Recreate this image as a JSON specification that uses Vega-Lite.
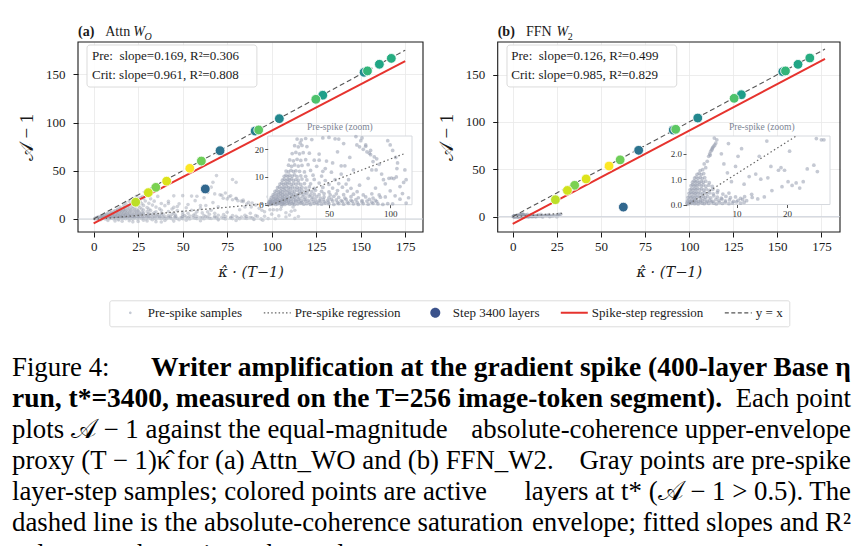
{
  "$schema": "https://vega.github.io/schema/vega-lite/v6.json",
  "width": 863,
  "height": 546,
  "autosize": {"type": "none"},
  "padding": 0,
  "background": "white",
  "config": {
    "view": {"stroke": null},
    "font": "Liberation Serif",
    "axis": {
      "labelFont": "Liberation Serif",
      "titleFont": "Liberation Serif",
      "labelColor": "#1a1a1a",
      "titleColor": "#1a1a1a",
      "tickColor": "#1a1a1a",
      "domain": false,
      "labelFlush": false,
      "labelOverlap": false,
      "titleFontWeight": "normal",
      "gridColor": "#e8e8e8",
      "gridWidth": 0.8
    },
    "text": {"font": "Liberation Serif", "color": "#1a1a1a"}
  },
  "datasets": {
    "preA": [
      {"x":0.5,"y":0.3},{"x":1.5,"y":0.1},{"x":2.5,"y":0.4},{"x":3.5,"y":0.2},{"x":5,"y":0.5},{"x":6.5,"y":0.1},{"x":8,"y":0.3},{"x":9.5,"y":0.6},{"x":11,"y":0.2},{"x":12.5,"y":0.4},{"x":14,"y":0.1},{"x":16,"y":0.5},{"x":18,"y":0.2},{"x":20,"y":0.4},{"x":22,"y":0.1},{"x":24.5,"y":0.3},{"x":27,"y":0.6},{"x":29.5,"y":0.2},{"x":32,"y":0.4},{"x":35,"y":0.1},{"x":38,"y":0.5},{"x":41,"y":0.3},{"x":44,"y":0.2},{"x":47,"y":0.6},{"x":50,"y":0.3},{"x":54,"y":0.1},{"x":58,"y":0.4},{"x":62,"y":0.2},{"x":66,"y":0.5},{"x":70,"y":0.3},{"x":74,"y":0.1},{"x":78,"y":0.4},{"x":82,"y":0.2},{"x":86,"y":0.5},{"x":90,"y":0.3},{"x":94,"y":0.1},{"x":98,"y":0.4},{"x":102,"y":0.3},
      {"x":1,"y":0.9},{"x":2,"y":1.2},{"x":3,"y":0.8},{"x":4.5,"y":1.1},{"x":6,"y":0.9},{"x":7.5,"y":1.3},{"x":9,"y":0.8},{"x":10.5,"y":1.2},{"x":12,"y":1.0},{"x":13.5,"y":0.8},{"x":15,"y":1.3},{"x":17,"y":0.9},{"x":19,"y":1.1},{"x":21,"y":0.8},{"x":23,"y":1.2},{"x":25.5,"y":1.0},{"x":28,"y":0.8},{"x":31,"y":1.3},{"x":34,"y":0.9},{"x":37,"y":1.1},{"x":40,"y":0.8},{"x":43,"y":1.2},{"x":46,"y":1.0},{"x":49.5,"y":0.9},{"x":53,"y":1.3},{"x":57,"y":0.8},{"x":61,"y":1.1},{"x":65,"y":0.9},{"x":69,"y":1.2},{"x":73,"y":0.8},{"x":77,"y":1.0},{"x":81,"y":1.3},{"x":85,"y":0.9},{"x":89,"y":1.1},
      {"x":2,"y":1.7},{"x":3.5,"y":1.5},{"x":5,"y":2.0},{"x":6.5,"y":1.6},{"x":8,"y":1.9},{"x":9.5,"y":1.5},{"x":11,"y":1.8},{"x":12.5,"y":2.0},{"x":14,"y":1.6},{"x":15.5,"y":1.9},{"x":17,"y":1.5},{"x":19,"y":1.8},{"x":21,"y":2.0},{"x":23,"y":1.6},{"x":25,"y":1.9},{"x":27.5,"y":1.5},{"x":30,"y":1.8},{"x":33,"y":1.6},{"x":36,"y":2.0},{"x":39,"y":1.7},{"x":42,"y":1.5},{"x":45.5,"y":1.9},{"x":49,"y":1.6},{"x":52,"y":2.0},{"x":56,"y":1.7},{"x":60,"y":1.5},{"x":64,"y":1.9},{"x":68,"y":1.6},{"x":72,"y":1.8},{"x":77,"y":1.5},{"x":83,"y":1.9},{"x":88,"y":1.6},
      {"x":3,"y":2.6},{"x":4.5,"y":2.9},{"x":6,"y":2.4},{"x":7.5,"y":2.8},{"x":9,"y":2.5},{"x":10.5,"y":3.0},{"x":12,"y":2.6},{"x":13.5,"y":2.9},{"x":15,"y":2.4},{"x":16.5,"y":2.8},{"x":18,"y":2.5},{"x":20,"y":3.0},{"x":22,"y":2.6},{"x":24,"y":2.9},{"x":26,"y":2.4},{"x":28.5,"y":2.8},{"x":31,"y":2.5},{"x":34,"y":3.0},{"x":37,"y":2.6},{"x":40,"y":2.9},{"x":43,"y":2.4},{"x":46,"y":2.8},{"x":50,"y":2.5},{"x":54,"y":3.0},{"x":58,"y":2.6},{"x":63,"y":2.4},{"x":68,"y":2.9},{"x":74,"y":2.5},{"x":80,"y":2.8},{"x":86,"y":2.4},{"x":92,"y":2.7},
      {"x":4.5,"y":3.6},{"x":6,"y":3.9},{"x":7.5,"y":3.5},{"x":9,"y":3.8},{"x":10.5,"y":4.0},{"x":12,"y":3.6},{"x":13.5,"y":3.9},{"x":15,"y":3.5},{"x":16.5,"y":3.8},{"x":18,"y":4.0},{"x":19.5,"y":3.6},{"x":21,"y":3.9},{"x":23,"y":3.5},{"x":25,"y":3.8},{"x":27,"y":4.0},{"x":29.5,"y":3.6},{"x":32,"y":3.9},{"x":35,"y":3.5},{"x":38,"y":3.8},{"x":42,"y":3.6},{"x":46,"y":4.0},{"x":51,"y":3.5},{"x":56,"y":3.9},{"x":62,"y":3.6},{"x":70,"y":3.8},{"x":78,"y":3.5},{"x":85,"y":3.9},
      {"x":6,"y":4.8},{"x":7.5,"y":5.1},{"x":9,"y":4.6},{"x":10.5,"y":5.0},{"x":12,"y":4.7},{"x":13.5,"y":5.2},{"x":15,"y":4.8},{"x":16.5,"y":5.1},{"x":18,"y":4.6},{"x":20,"y":5.0},{"x":22,"y":4.7},{"x":24,"y":5.2},{"x":26,"y":4.8},{"x":28,"y":5.1},{"x":30.5,"y":4.6},{"x":33,"y":5.0},{"x":36,"y":4.7},{"x":39,"y":5.2},{"x":44,"y":4.8},{"x":50,"y":4.6},{"x":57,"y":5.1},{"x":65,"y":4.9},{"x":73,"y":4.7},
      {"x":8,"y":6.1},{"x":9.5,"y":6.4},{"x":11,"y":5.9},{"x":12.5,"y":6.3},{"x":14,"y":6.0},{"x":15.5,"y":6.5},{"x":17,"y":6.1},{"x":18.5,"y":5.9},{"x":20,"y":6.4},{"x":22,"y":6.0},{"x":24,"y":6.3},{"x":26,"y":5.9},{"x":28,"y":6.2},{"x":31,"y":6.0},{"x":34,"y":6.4},{"x":38,"y":5.9},{"x":45,"y":6.2},{"x":53,"y":6.0},{"x":61,"y":6.3},{"x":68,"y":5.9},
      {"x":10,"y":7.4},{"x":11.5,"y":7.8},{"x":13,"y":7.3},{"x":14.5,"y":7.7},{"x":16,"y":7.5},{"x":17.5,"y":7.9},{"x":19,"y":7.3},{"x":21,"y":7.6},{"x":23,"y":7.4},{"x":25,"y":7.8},{"x":27,"y":7.3},{"x":30,"y":7.6},{"x":35,"y":7.5},{"x":42,"y":7.8},{"x":50,"y":7.3},{"x":58,"y":7.6},{"x":64,"y":7.4},
      {"x":12,"y":8.8},{"x":13.5,"y":9.2},{"x":15,"y":8.7},{"x":16.5,"y":9.1},{"x":18,"y":8.9},{"x":19.5,"y":9.3},{"x":21,"y":8.7},{"x":23,"y":9.0},{"x":25,"y":8.8},{"x":28,"y":9.2},{"x":32,"y":8.9},{"x":38,"y":9.1},{"x":47,"y":8.7},{"x":55,"y":9.0},
      {"x":13.5,"y":10.2},{"x":15,"y":10.6},{"x":16.5,"y":10.1},{"x":18,"y":10.5},{"x":20,"y":10.3},{"x":22,"y":10.7},{"x":24,"y":10.1},{"x":27,"y":10.4},{"x":31,"y":10.2},{"x":37,"y":10.6},{"x":44,"y":10.3},
      {"x":15,"y":12.1},{"x":17,"y":11.8},{"x":19,"y":12.3},{"x":21,"y":11.9},{"x":23,"y":12.2},{"x":26,"y":12.0},{"x":30,"y":11.8},{"x":35,"y":12.3},{"x":45,"y":12.0},{"x":52,"y":11.7},
      {"x":17,"y":14.2},{"x":19.5,"y":13.8},{"x":22,"y":14.3},{"x":25,"y":13.9},{"x":28,"y":14.1},{"x":33,"y":14.4},{"x":40,"y":13.8},{"x":60,"y":14.0},
      {"x":18,"y":16.1},{"x":21,"y":15.8},{"x":24,"y":16.3},{"x":27,"y":15.9},{"x":31,"y":16.2},{"x":38,"y":16.0},{"x":48,"y":15.7},
      {"x":20,"y":18.4},{"x":23,"y":18.8},{"x":26,"y":18.3},{"x":29,"y":18.7},{"x":34,"y":18.5},{"x":42,"y":18.2},
      {"x":22,"y":21.2},{"x":25,"y":20.8},{"x":28,"y":21.3},{"x":32,"y":20.9},{"x":26.5,"y":22.2},
      {"x":24,"y":23.6},{"x":27.5,"y":23.3},{"x":31,"y":23.8},{"x":36,"y":23.4},{"x":45,"y":24.0},{"x":55,"y":23.7},
      {"x":50,"y":24.2},{"x":58,"y":23.6},{"x":72.8,"y":21.5},{"x":75,"y":20.8},{"x":78,"y":19.9},{"x":81,"y":19},{"x":84,"y":18},{"x":87,"y":17.2},{"x":89,"y":16.5},{"x":91,"y":14.5},{"x":93,"y":11},{"x":94.5,"y":9},{"x":96,"y":7.5},{"x":99,"y":9.5},{"x":101,"y":9.6},{"x":103,"y":9.4},{"x":105,"y":10},{"x":105.5,"y":13},{"x":106,"y":15},{"x":104.5,"y":17},{"x":102,"y":19.5},{"x":100,"y":21.5},{"x":98,"y":23},{"x":112,"y":12.5},{"x":113,"y":9},{"x":110,"y":4},{"x":108,"y":2},{"x":115,"y":2.5},{"x":113,"y":0.6},{"x":60,"y":11},{"x":66,"y":9},{"x":70,"y":12.5},{"x":75,"y":7},{"x":82,"y":9.5},{"x":88,"y":6},{"x":63,"y":14},{"x":67,"y":17},{"x":71,"y":25},{"x":64,"y":28},{"x":66,"y":33},{"x":67,"y":38},{"x":69,"y":45},{"x":78,"y":41},{"x":80,"y":38},{"x":62,"y":22},{"x":57,"y":19},{"x":53,"y":15},{"x":47,"y":13},{"x":42,"y":16},{"x":85,"y":12.5},{"x":91,"y":3.5},{"x":96,"y":2.8},{"x":100,"y":5},{"x":104,"y":3.2},{"x":108,"y":6.5},{"x":111,"y":8},
      {"x":74,"y":27},{"x":77,"y":24},{"x":80,"y":21.5},{"x":83,"y":18.5},{"x":86,"y":15.5},{"x":88.5,"y":12.5},{"x":64,"y":27.5},{"x":68,"y":26},{"x":72,"y":24.5},{"x":76,"y":23},{"x":80,"y":21},{"x":84,"y":19.5},
      {"x":4,"y":-0.8},{"x":8,"y":-1.5},{"x":12,"y":-2},{"x":16,"y":-2.4},{"x":20,"y":-1.8},{"x":25,"y":-2.5},{"x":30,"y":-2},{"x":35,"y":-2.8},{"x":40,"y":-1.5},{"x":45,"y":-2.2},{"x":52,"y":-1.2},{"x":60,"y":-1.8},{"x":70,"y":-0.9},{"x":80,"y":-1.5},{"x":90,"y":-0.6},{"x":95,"y":-1.2},{"x":14,"y":-1},{"x":22,"y":-3},{"x":28,"y":-1.2},{"x":33,"y":-0.7},{"x":38,"y":-3.2},{"x":48,"y":-0.8}
    ],
    "preB": [
      {"x":0.2,"y":0.05},{"x":0.5,"y":0.02},{"x":0.8,"y":0.08},{"x":1.1,"y":0.04},{"x":1.4,"y":0.1},{"x":1.7,"y":0.03},{"x":2.0,"y":0.07},{"x":2.4,"y":0.02},{"x":2.8,"y":0.09},{"x":3.2,"y":0.05},{"x":3.6,"y":0.03},{"x":4.0,"y":0.08},{"x":4.5,"y":0.04},{"x":5.0,"y":0.1},{"x":5.5,"y":0.05},{"x":6.0,"y":0.02},{"x":6.6,"y":0.08},{"x":7.2,"y":0.04},{"x":7.8,"y":0.09},{"x":8.5,"y":0.03},{"x":9.2,"y":0.06},{"x":10.0,"y":0.1},{"x":10.8,"y":0.05},{"x":11.5,"y":0.08},
      {"x":0.3,"y":0.14},{"x":0.6,"y":0.18},{"x":0.9,"y":0.12},{"x":1.2,"y":0.17},{"x":1.5,"y":0.13},{"x":1.8,"y":0.19},{"x":2.1,"y":0.15},{"x":2.5,"y":0.12},{"x":2.9,"y":0.18},{"x":3.3,"y":0.14},{"x":3.7,"y":0.2},{"x":4.2,"y":0.13},{"x":4.7,"y":0.17},{"x":5.3,"y":0.12},{"x":5.9,"y":0.19},{"x":6.5,"y":0.15},{"x":7.1,"y":0.21},{"x":7.8,"y":0.14},{"x":8.6,"y":0.18},{"x":9.4,"y":0.12},{"x":10.3,"y":0.16},{"x":11.2,"y":0.2},
      {"x":0.4,"y":0.28},{"x":0.7,"y":0.33},{"x":1.0,"y":0.27},{"x":1.3,"y":0.31},{"x":1.6,"y":0.26},{"x":1.9,"y":0.34},{"x":2.2,"y":0.29},{"x":2.6,"y":0.32},{"x":3.0,"y":0.27},{"x":3.4,"y":0.33},{"x":3.8,"y":0.28},{"x":4.3,"y":0.31},{"x":4.9,"y":0.26},{"x":5.5,"y":0.34},{"x":6.2,"y":0.29},{"x":7.0,"y":0.25},{"x":7.9,"y":0.32},{"x":8.8,"y":0.27},{"x":9.8,"y":0.3},{"x":10.8,"y":0.24},{"x":11.6,"y":0.31},{"x":13.1,"y":0.28},{"x":14.2,"y":0.22},
      {"x":0.6,"y":0.44},{"x":0.9,"y":0.48},{"x":1.2,"y":0.42},{"x":1.5,"y":0.47},{"x":1.8,"y":0.43},{"x":2.1,"y":0.49},{"x":2.4,"y":0.44},{"x":2.8,"y":0.46},{"x":3.2,"y":0.41},{"x":3.6,"y":0.48},{"x":4.1,"y":0.43},{"x":4.7,"y":0.46},{"x":5.4,"y":0.42},{"x":6.2,"y":0.47},{"x":7.3,"y":0.41},{"x":8.5,"y":0.45},
      {"x":0.8,"y":0.58},{"x":1.1,"y":0.62},{"x":1.4,"y":0.57},{"x":1.7,"y":0.63},{"x":2.0,"y":0.59},{"x":2.3,"y":0.64},{"x":2.7,"y":0.58},{"x":3.1,"y":0.62},{"x":3.5,"y":0.57},{"x":4.0,"y":0.61},{"x":4.6,"y":0.56},{"x":5.3,"y":0.6},{"x":6.3,"y":0.55},
      {"x":1.0,"y":0.74},{"x":1.3,"y":0.78},{"x":1.6,"y":0.73},{"x":1.9,"y":0.77},{"x":2.2,"y":0.75},{"x":2.6,"y":0.79},{"x":3.0,"y":0.73},{"x":3.4,"y":0.77},{"x":3.9,"y":0.72},{"x":4.5,"y":0.76},{"x":5.2,"y":0.71},
      {"x":1.3,"y":0.88},{"x":1.6,"y":0.93},{"x":1.9,"y":0.89},{"x":2.2,"y":0.92},{"x":2.6,"y":0.87},{"x":3.0,"y":0.91},{"x":3.4,"y":0.88},{"x":3.9,"y":0.92},{"x":4.6,"y":0.86},
      {"x":1.7,"y":1.04},{"x":2.0,"y":1.08},{"x":2.4,"y":1.03},{"x":2.8,"y":1.07},{"x":3.2,"y":1.02},{"x":3.7,"y":1.06},
      {"x":2.2,"y":1.19},{"x":2.6,"y":1.23},{"x":3.0,"y":1.18},{"x":3.5,"y":1.22},{"x":2.8,"y":1.34},{"x":3.3,"y":1.37},
      {"x":4.5,"y":1.9},{"x":4.7,"y":2.0},{"x":4.9,"y":2.1},{"x":5.1,"y":2.15},{"x":5.3,"y":2.25},{"x":5.5,"y":2.3},{"x":5.7,"y":2.35},{"x":5.9,"y":2.42},{"x":4.8,"y":1.95},{"x":5.2,"y":2.2},{"x":5.6,"y":2.62},{"x":6.1,"y":2.55},{"x":7.0,"y":2.0},{"x":7.5,"y":1.6},{"x":3.6,"y":1.6},{"x":3.9,"y":1.45},{"x":4.2,"y":1.7},{"x":9.8,"y":1.5},{"x":10.3,"y":1.9},{"x":8.2,"y":1.25},{"x":9,"y":0.9},{"x":11.5,"y":0.8},{"x":12.5,"y":1.1},{"x":13.8,"y":1.2},{"x":14.8,"y":1.0},{"x":16.2,"y":1.05},{"x":16.8,"y":1.5},{"x":18.3,"y":1.35},{"x":18.8,"y":1.45},{"x":19.5,"y":1.35},{"x":20.2,"y":0.9},{"x":21,"y":0.75},{"x":21.8,"y":0.85},{"x":22.5,"y":0.65},{"x":23.2,"y":0.9},{"x":24,"y":1.4},{"x":25.3,"y":1.55},{"x":26,"y":1.3},{"x":26.8,"y":2.55},{"x":27.3,"y":2.55},{"x":25.8,"y":2.6},{"x":20.5,"y":2.1},{"x":13,"y":0.4},{"x":15.5,"y":0.3},{"x":17,"y":0.55},{"x":12,"y":0.15},{"x":19,"y":0.7},{"x":8.4,"y":2.4},{"x":11,"y":2.2},{"x":16,"y":2.5},{"x":14.5,"y":1.9},
      {"x":1,"y":-0.3},{"x":3,"y":-0.5},{"x":6,"y":-0.2},{"x":9,"y":-0.4},{"x":13,"y":-0.3},{"x":17,"y":-0.6},{"x":21,"y":-0.2},{"x":25,"y":-0.4}
    ],
    "active": [
      {"panel":"a","x":62.7,"y":31.1,"layer":132},{"panel":"a","x":71.0,"y":70.8,"layer":152},{"panel":"a","x":90.7,"y":91.2,"layer":168},{"panel":"a","x":104.3,"y":104.0,"layer":186},{"panel":"a","x":151.9,"y":152.1,"layer":192},{"panel":"a","x":128.7,"y":128.3,"layer":223},{"panel":"a","x":160.5,"y":160.4,"layer":235},{"panel":"a","x":167.2,"y":166.5,"layer":247},{"panel":"a","x":153.8,"y":153.5,"layer":263},{"panel":"a","x":124.8,"y":124.1,"layer":287},{"panel":"a","x":92.7,"y":92.3,"layer":299},{"panel":"a","x":60.5,"y":60.1,"layer":311},{"panel":"a","x":34.9,"y":32.8,"layer":319},{"panel":"a","x":23.6,"y":17.4,"layer":359},{"panel":"a","x":30.7,"y":27.3,"layer":371},{"panel":"a","x":41.0,"y":39.2,"layer":379},{"panel":"a","x":54.0,"y":52.5,"layer":399},
      {"panel":"b","x":62.7,"y":10.1,"layer":132},{"panel":"b","x":71.4,"y":70.1,"layer":152},{"panel":"b","x":91.0,"y":91.5,"layer":168},{"panel":"b","x":104.9,"y":104.2,"layer":186},{"panel":"b","x":153.1,"y":153.1,"layer":192},{"panel":"b","x":129.6,"y":128.8,"layer":223},{"panel":"b","x":161.7,"y":160.9,"layer":235},{"panel":"b","x":168.4,"y":167.6,"layer":247},{"panel":"b","x":154.6,"y":153.9,"layer":263},{"panel":"b","x":125.5,"y":125.0,"layer":287},{"panel":"b","x":92.4,"y":92.3,"layer":299},{"panel":"b","x":60.9,"y":60.0,"layer":311},{"panel":"b","x":35.1,"y":33.1,"layer":319},{"panel":"b","x":24.2,"y":17.9,"layer":359},{"panel":"b","x":31.0,"y":27.7,"layer":371},{"panel":"b","x":41.6,"y":39.8,"layer":379},{"panel":"b","x":54.6,"y":53.5,"layer":399}
    ],
    "fits": [
      {"panel":"a","kind":"pre","x":0,"y":-0.5},{"panel":"a","kind":"pre","x":112,"y":18.428},
      {"panel":"a","kind":"spike","x":0,"y":-4.5},{"panel":"a","kind":"spike","x":175,"y":163.675},
      {"panel":"a","kind":"identity","x":0,"y":0},{"panel":"a","kind":"identity","x":175,"y":175},
      {"panel":"b","kind":"pre","x":0,"y":-0.05},{"panel":"b","kind":"pre","x":28,"y":3.478},
      {"panel":"b","kind":"pre-zoom","x":0,"y":-0.05},{"panel":"b","kind":"pre-zoom","x":21.8,"y":2.697},
      {"panel":"b","kind":"spike","x":0,"y":-7.7},{"panel":"b","kind":"spike","x":177,"y":166.645},
      {"panel":"b","kind":"identity","x":0,"y":0},{"panel":"b","kind":"identity","x":177,"y":177}
    ],
    "caption": [
      {"line":1,"segment":"first","role":"body","text":"Figure 4:"},
      {"line":1,"segment":"last","role":"heading","text":"Writer amplification at the gradient spike (400-layer Base η"},
      {"line":2,"segment":"first","role":"heading","text":"run, t*=3400, measured on the T=256 image-token segment)."},
      {"line":2,"segment":"last","role":"body","text":"Each point"},
      {"line":3,"segment":"first","role":"body","text":"plots 𝒜 − 1 against the equal-magnitude"},
      {"line":3,"segment":"last","role":"body","text":"absolute-coherence upper-envelope"},
      {"line":4,"segment":"first","role":"body","text":"proxy (T − 1)κ̂ for (a) Attn_WO and (b) FFN_W2."},
      {"line":4,"segment":"last","role":"body","text":"Gray points are pre-spike"},
      {"line":5,"segment":"first","role":"body","text":"layer-step samples; colored points are active"},
      {"line":5,"segment":"last","role":"body","text":"layers at t* (𝒜 − 1 > 0.5). The"},
      {"line":6,"segment":"first","role":"body","text":"dashed line is the absolute-coherence saturation"},
      {"line":6,"segment":"last","role":"body","text":"envelope; fitted slopes and R²"},
      {"line":7,"segment":"first","role":"body","text":"values are shown in each panel."}
    ]
  },
  "resolve": {
    "scale": {"x": "independent", "y": "independent", "fill": "independent", "stroke": "independent", "color": "independent", "shape": "independent", "strokeDash": "independent"},
    "axis": {"x": "independent", "y": "independent"}
  },
  "layer": [
    {
      "data": {"values": [{"panel": "a"}]},
      "mark": {"type": "rect", "fill": "white", "fillOpacity": 0, "stroke": "#1a1a1a", "strokeWidth": 1.1},
      "encoding": {
        "x": {"datum": -8.8, "type": "quantitative", "scale": {"domain": [-8.8, 185], "range": [78, 423], "nice": false, "zero": false},
              "axis": {"orient": "top", "values": [0, 25, 50, 75, 100, 125, 150, 175], "grid": true, "labels": false, "ticks": false, "title": null}},
        "x2": {"datum": 185},
        "y": {"datum": -13.5, "type": "quantitative", "scale": {"domain": [-13.5, 183.5], "range": [232, 42], "nice": false, "zero": false}, "axis": null},
        "y2": {"datum": 183.5}
      }
    },
    {
      "layer": [
        {
          "data": {"name": "preA"},
          "mark": {"type": "point", "filled": true, "size": 13, "color": "#969dae", "opacity": 0.45, "strokeWidth": 0},
          "encoding": {
            "x": {"field": "x", "type": "quantitative", "scale": {"domain": [-8.8, 185], "range": [78, 423], "nice": false, "zero": false},
                  "axis": {"orient": "bottom", "offset": -314, "values": [0, 25, 50, 75, 100, 125, 150, 175], "grid": false, "title": "κ̂ · (T−1)", "titleFont": "DejaVu Serif", "titleFontStyle": "italic", "titleFontSize": 14.5, "titlePadding": 12, "labelFont": "Liberation Serif", "labelFontSize": 13, "tickSize": 5, "labelPadding": 3}},
            "y": {"field": "y", "type": "quantitative", "scale": {"domain": [-13.5, 183.5], "range": [232, 42], "nice": false, "zero": false},
                  "axis": {"orient": "left", "offset": -78, "values": [0, 50, 100, 150], "grid": true, "title": "𝒜 − 1", "titleFont": "Liberation Serif", "titleFontSize": 19, "titlePadding": 9, "labelFont": "Liberation Serif", "labelFontSize": 13, "tickSize": 5, "labelPadding": 8}}
          }
        },
        {
          "data": {"values": [{"level": 0}]},
          "mark": {"type": "rule", "color": "#cfd4dc", "strokeWidth": 1},
          "encoding": {"x": {"datum": -8.8, "type": "quantitative"}, "x2": {"datum": 185}, "y": {"field": "level", "type": "quantitative"}}
        },
        {
          "data": {"name": "fits"},
          "transform": [{"filter": "datum.panel === 'a' && datum.kind === 'pre'"}],
          "mark": {"type": "line", "color": "#666666", "strokeDash": [1.5, 2.5], "strokeWidth": 1.3},
          "encoding": {"x": {"field": "x", "type": "quantitative"}, "y": {"field": "y", "type": "quantitative"}}
        },
        {
          "data": {"name": "fits"},
          "transform": [{"filter": "datum.panel === 'a' && datum.kind === 'identity'"}],
          "mark": {"type": "line", "color": "#555555", "strokeDash": [5, 3], "strokeWidth": 1.1},
          "encoding": {"x": {"field": "x", "type": "quantitative"}, "y": {"field": "y", "type": "quantitative"}}
        },
        {
          "data": {"name": "fits"},
          "transform": [{"filter": "datum.panel === 'a' && datum.kind === 'spike'"}],
          "mark": {"type": "line", "color": "#e6332e", "strokeWidth": 2},
          "encoding": {"x": {"field": "x", "type": "quantitative"}, "y": {"field": "y", "type": "quantitative"}}
        },
        {
          "data": {"name": "active"},
          "transform": [{"filter": "datum.panel === 'a'"}],
          "mark": {"type": "point", "filled": true, "size": 95, "stroke": "white", "strokeWidth": 0.8, "opacity": 1},
          "encoding": {
            "x": {"field": "x", "type": "quantitative"},
            "y": {"field": "y", "type": "quantitative"},
            "color": {"field": "layer", "type": "quantitative", "scale": {"scheme": "viridis", "domain": [0, 399]}, "legend": null}
          }
        },
        {
          "data": {"values": [{"panel": "a"}]},
          "mark": {"type": "rect", "fill": "white", "stroke": "#d9d9d9", "strokeWidth": 1, "cornerRadius": 3, "opacity": 0.92},
          "encoding": {"x": {"datum": -3.74, "type": "quantitative"}, "x2": {"datum": 91.7}, "y": {"datum": 180.4, "type": "quantitative"}, "y2": {"datum": 136.8}}
        },
        {
          "data": {"values": [{"label": "Pre:\u00a0 slope=0.169, R²=0.306"}]},
          "mark": {"type": "text", "align": "left", "baseline": "middle", "fontSize": 13},
          "encoding": {"x": {"datum": -0.94, "type": "quantitative"}, "y": {"datum": 169.0, "type": "quantitative"}, "text": {"field": "label"}}
        },
        {
          "data": {"values": [{"label": "Crit: slope=0.961, R²=0.808"}]},
          "mark": {"type": "text", "align": "left", "baseline": "middle", "fontSize": 13},
          "encoding": {"x": {"datum": -0.94, "type": "quantitative"}, "y": {"datum": 149.3, "type": "quantitative"}, "text": {"field": "label"}}
        },
        {
          "data": {"values": [{"label": "(a)"}]},
          "mark": {"type": "text", "align": "left", "baseline": "middle", "fontSize": 14, "fontWeight": "bold"},
          "encoding": {"x": {"datum": -8.8, "type": "quantitative"}, "y": {"datum": 193.9, "type": "quantitative"}, "text": {"field": "label"}}
        },
        {
          "data": {"values": [{"label": "Attn"}]},
          "mark": {"type": "text", "align": "left", "baseline": "middle", "fontSize": 14},
          "encoding": {"x": {"datum": 6.5, "type": "quantitative"}, "y": {"datum": 193.9, "type": "quantitative"}, "text": {"field": "label"}}
        },
        {
          "data": {"values": [{"label": "W"}]},
          "mark": {"type": "text", "align": "left", "baseline": "middle", "fontSize": 14, "fontStyle": "italic"},
          "encoding": {"x": {"datum": 22.3, "type": "quantitative"}, "y": {"datum": 193.9, "type": "quantitative"}, "text": {"field": "label"}}
        },
        {
          "data": {"values": [{"label": "O"}]},
          "mark": {"type": "text", "align": "left", "baseline": "middle", "fontSize": 10, "fontStyle": "italic"},
          "encoding": {"x": {"datum": 28.6, "type": "quantitative"}, "y": {"datum": 189.2, "type": "quantitative"}, "text": {"field": "label"}}
        }
      ]
    },
    {
      "layer": [
        {
          "data": {"values": [{"panel": "a"}]},
          "mark": {"type": "rect", "fill": "white", "stroke": "#d6d9de", "strokeWidth": 1},
          "encoding": {
            "x": {"datum": 0, "type": "quantitative", "scale": {"domain": [0, 117.8], "range": [267.7, 412], "nice": false, "zero": false},
                  "axis": {"orient": "bottom", "offset": -341.3, "values": [50, 100], "grid": false, "title": null, "labelFont": "Liberation Serif", "labelFontSize": 9, "tickSize": 3, "labelPadding": 2, "labelColor": "#333333", "tickColor": "#555555", "zindex": 1}},
            "x2": {"datum": 117.8},
            "y": {"datum": 0, "type": "quantitative", "scale": {"domain": [0, 24.7], "range": [204.7, 136], "nice": false, "zero": false},
                  "axis": {"orient": "left", "offset": -267.7, "values": [0, 10, 20], "grid": false, "title": null, "labelFont": "Liberation Serif", "labelFontSize": 9, "tickSize": 3, "labelPadding": 1.5, "labelColor": "#333333", "tickColor": "#555555", "zindex": 1}},
            "y2": {"datum": 24.7}
          }
        },
        {
          "data": {"name": "preA"},
          "transform": [{"filter": "datum.x >= 0 && datum.x <= 117.8 && datum.y >= 0 && datum.y <= 24.7"}],
          "mark": {"type": "point", "filled": true, "size": 14, "color": "#969dae", "opacity": 0.55, "strokeWidth": 0},
          "encoding": {"x": {"field": "x", "type": "quantitative"}, "y": {"field": "y", "type": "quantitative"}}
        },
        {
          "data": {"name": "fits"},
          "transform": [{"filter": "datum.panel === 'a' && datum.kind === 'pre'"}],
          "mark": {"type": "line", "color": "#666666", "strokeDash": [1.5, 2.5], "strokeWidth": 1.2},
          "encoding": {"x": {"field": "x", "type": "quantitative"}, "y": {"field": "y", "type": "quantitative"}}
        },
        {
          "data": {"values": [{"label": "Pre-spike (zoom)"}]},
          "mark": {"type": "text", "align": "center", "baseline": "middle", "fontSize": 9.5, "color": "#7d8594"},
          "encoding": {"x": {"datum": 58.9, "type": "quantitative"}, "y": {"datum": 27.9, "type": "quantitative"}, "text": {"field": "label"}}
        }
      ]
    },
    {
      "data": {"values": [{"panel": "b"}]},
      "mark": {"type": "rect", "fill": "white", "fillOpacity": 0, "stroke": "#1a1a1a", "strokeWidth": 1.1},
      "encoding": {
        "x": {"datum": -8.5, "type": "quantitative", "scale": {"domain": [-8.5, 185.5], "range": [497.7, 840], "nice": false, "zero": false},
              "axis": {"orient": "top", "values": [0, 25, 50, 75, 100, 125, 150, 175], "grid": true, "labels": false, "ticks": false, "title": null}},
        "x2": {"datum": 185.5},
        "y": {"datum": -16.2, "type": "quantitative", "scale": {"domain": [-16.2, 184.5], "range": [232, 42], "nice": false, "zero": false}, "axis": null},
        "y2": {"datum": 184.5}
      }
    },
    {
      "layer": [
        {
          "data": {"name": "preB"},
          "mark": {"type": "point", "filled": true, "size": 13, "color": "#969dae", "opacity": 0.45, "strokeWidth": 0},
          "encoding": {
            "x": {"field": "x", "type": "quantitative", "scale": {"domain": [-8.5, 185.5], "range": [497.7, 840], "nice": false, "zero": false},
                  "axis": {"orient": "bottom", "offset": -314, "values": [0, 25, 50, 75, 100, 125, 150, 175], "grid": false, "title": "κ̂ · (T−1)", "titleFont": "DejaVu Serif", "titleFontStyle": "italic", "titleFontSize": 14.5, "titlePadding": 12, "labelFont": "Liberation Serif", "labelFontSize": 13, "tickSize": 5, "labelPadding": 3}},
            "y": {"field": "y", "type": "quantitative", "scale": {"domain": [-16.2, 184.5], "range": [232, 42], "nice": false, "zero": false},
                  "axis": {"orient": "left", "offset": -497.7, "values": [0, 50, 100, 150], "grid": true, "title": "𝒜 − 1", "titleFont": "Liberation Serif", "titleFontSize": 19, "titlePadding": 9, "labelFont": "Liberation Serif", "labelFontSize": 13, "tickSize": 5, "labelPadding": 8}}
          }
        },
        {
          "data": {"values": [{"level": 0}]},
          "mark": {"type": "rule", "color": "#cfd4dc", "strokeWidth": 1},
          "encoding": {"x": {"datum": -8.5, "type": "quantitative"}, "x2": {"datum": 185.5}, "y": {"field": "level", "type": "quantitative"}}
        },
        {
          "data": {"name": "fits"},
          "transform": [{"filter": "datum.panel === 'b' && datum.kind === 'pre'"}],
          "mark": {"type": "line", "color": "#666666", "strokeDash": [1.5, 2.5], "strokeWidth": 1.3},
          "encoding": {"x": {"field": "x", "type": "quantitative"}, "y": {"field": "y", "type": "quantitative"}}
        },
        {
          "data": {"name": "fits"},
          "transform": [{"filter": "datum.panel === 'b' && datum.kind === 'identity'"}],
          "mark": {"type": "line", "color": "#555555", "strokeDash": [5, 3], "strokeWidth": 1.1},
          "encoding": {"x": {"field": "x", "type": "quantitative"}, "y": {"field": "y", "type": "quantitative"}}
        },
        {
          "data": {"name": "fits"},
          "transform": [{"filter": "datum.panel === 'b' && datum.kind === 'spike'"}],
          "mark": {"type": "line", "color": "#e6332e", "strokeWidth": 2},
          "encoding": {"x": {"field": "x", "type": "quantitative"}, "y": {"field": "y", "type": "quantitative"}}
        },
        {
          "data": {"name": "active"},
          "transform": [{"filter": "datum.panel === 'b'"}],
          "mark": {"type": "point", "filled": true, "size": 95, "stroke": "white", "strokeWidth": 0.8, "opacity": 1},
          "encoding": {
            "x": {"field": "x", "type": "quantitative"},
            "y": {"field": "y", "type": "quantitative"},
            "color": {"field": "layer", "type": "quantitative", "scale": {"scheme": "viridis", "domain": [0, 399]}, "legend": null}
          }
        },
        {
          "data": {"values": [{"panel": "b"}]},
          "mark": {"type": "rect", "fill": "white", "stroke": "#d9d9d9", "strokeWidth": 1, "cornerRadius": 3, "opacity": 0.92},
          "encoding": {"x": {"datum": -3.23, "type": "quantitative"}, "x2": {"datum": 92.96}, "y": {"datum": 181.3, "type": "quantitative"}, "y2": {"datum": 137.0}}
        },
        {
          "data": {"values": [{"label": "Pre:\u00a0 slope=0.126, R²=0.499"}]},
          "mark": {"type": "text", "align": "left", "baseline": "middle", "fontSize": 13},
          "encoding": {"x": {"datum": -0.79, "type": "quantitative"}, "y": {"datum": 169.7, "type": "quantitative"}, "text": {"field": "label"}}
        },
        {
          "data": {"values": [{"label": "Crit: slope=0.985, R²=0.829"}]},
          "mark": {"type": "text", "align": "left", "baseline": "middle", "fontSize": 13},
          "encoding": {"x": {"datum": -0.79, "type": "quantitative"}, "y": {"datum": 149.6, "type": "quantitative"}, "text": {"field": "label"}}
        },
        {
          "data": {"values": [{"label": "(b)"}]},
          "mark": {"type": "text", "align": "left", "baseline": "middle", "fontSize": 14, "fontWeight": "bold"},
          "encoding": {"x": {"datum": -8.5, "type": "quantitative"}, "y": {"datum": 195.1, "type": "quantitative"}, "text": {"field": "label"}}
        },
        {
          "data": {"values": [{"label": "FFN"}]},
          "mark": {"type": "text", "align": "left", "baseline": "middle", "fontSize": 14},
          "encoding": {"x": {"datum": 7.5, "type": "quantitative"}, "y": {"datum": 195.1, "type": "quantitative"}, "text": {"field": "label"}}
        },
        {
          "data": {"values": [{"label": "W"}]},
          "mark": {"type": "text", "align": "left", "baseline": "middle", "fontSize": 14, "fontStyle": "italic"},
          "encoding": {"x": {"datum": 24.8, "type": "quantitative"}, "y": {"datum": 195.1, "type": "quantitative"}, "text": {"field": "label"}}
        },
        {
          "data": {"values": [{"label": "2"}]},
          "mark": {"type": "text", "align": "left", "baseline": "middle", "fontSize": 10},
          "encoding": {"x": {"datum": 31.2, "type": "quantitative"}, "y": {"datum": 190.3, "type": "quantitative"}, "text": {"field": "label"}}
        }
      ]
    },
    {
      "layer": [
        {
          "data": {"values": [{"panel": "b"}]},
          "mark": {"type": "rect", "fill": "white", "stroke": "#d6d9de", "strokeWidth": 1},
          "encoding": {
            "x": {"datum": 0, "type": "quantitative", "scale": {"domain": [0, 28.5], "range": [686, 830], "nice": false, "zero": false},
                  "axis": {"orient": "bottom", "offset": -341.5, "values": [10, 20], "grid": false, "title": null, "labelFont": "Liberation Serif", "labelFontSize": 9, "tickSize": 3, "labelPadding": 2, "labelColor": "#333333", "tickColor": "#555555", "zindex": 1}},
            "x2": {"datum": 28.5},
            "y": {"datum": 0, "type": "quantitative", "scale": {"domain": [0, 2.7], "range": [204.5, 136], "nice": false, "zero": false},
                  "axis": {"orient": "left", "offset": -686, "values": [0, 1, 2], "grid": false, "title": null, "labelFont": "Liberation Serif", "labelFontSize": 9, "tickSize": 3, "labelPadding": 1.5, "labelColor": "#333333", "tickColor": "#555555", "zindex": 1}},
            "y2": {"datum": 2.7}
          }
        },
        {
          "data": {"name": "preB"},
          "transform": [{"filter": "datum.x >= 0 && datum.x <= 28.5 && datum.y >= 0 && datum.y <= 2.7"}],
          "mark": {"type": "point", "filled": true, "size": 14, "color": "#969dae", "opacity": 0.55, "strokeWidth": 0},
          "encoding": {"x": {"field": "x", "type": "quantitative"}, "y": {"field": "y", "type": "quantitative"}}
        },
        {
          "data": {"name": "fits"},
          "transform": [{"filter": "datum.panel === 'b' && datum.kind === 'pre-zoom'"}],
          "mark": {"type": "line", "color": "#666666", "strokeDash": [1.5, 2.5], "strokeWidth": 1.2},
          "encoding": {"x": {"field": "x", "type": "quantitative"}, "y": {"field": "y", "type": "quantitative"}}
        },
        {
          "data": {"values": [{"label": "Pre-spike (zoom)"}]},
          "mark": {"type": "text", "align": "center", "baseline": "middle", "fontSize": 9.5, "color": "#7d8594"},
          "encoding": {"x": {"datum": 15.0, "type": "quantitative"}, "y": {"datum": 3.05, "type": "quantitative"}, "text": {"field": "label"}}
        }
      ]
    },
    {
      "data": {"values": [{"item": "Pre-spike samples"}, {"item": "Pre-spike regression"}, {"item": "Step 3400 layers"}, {"item": "Spike-step regression"}, {"item": "y = x"}]},
      "transform": [{"filter": "false"}],
      "mark": {"type": "point", "filled": true, "size": 729, "strokeWidth": 1.2, "opacity": 1},
      "encoding": {
        "fill": {
          "field": "item", "type": "nominal",
          "scale": {"domain": ["Pre-spike samples", "Pre-spike regression", "Step 3400 layers", "Spike-step regression", "y = x"], "range": ["#c5cad4", "transparent", "#3b528b", "#e6332e", "transparent"]},
          "legend": {
            "title": null, "orient": "none", "legendX": 109.3, "legendY": 300.3, "direction": "horizontal", "columns": 5,
            "columnPadding": 20, "padding": 6.5, "strokeColor": "#dcdcdc", "fillColor": "white", "cornerRadius": 2,
            "labelFont": "Liberation Serif", "labelFontSize": 13, "labelColor": "#222222", "labelOffset": 3, "labelLimit": 300,
            "symbolSize": 729, "symbolStrokeWidth": 1.2, "symbolOpacity": 1, "clipHeight": 12
          }
        },
        "stroke": {
          "field": "item", "type": "nominal",
          "scale": {"domain": ["Pre-spike samples", "Pre-spike regression", "Step 3400 layers", "Spike-step regression", "y = x"], "range": ["transparent", "#666666", "transparent", "transparent", "#555555"]}
        },
        "shape": {
          "field": "item", "type": "nominal",
          "scale": {"domain": ["Pre-spike samples", "Pre-spike regression", "Step 3400 layers", "Spike-step regression", "y = x"],
                    "range": ["M-0.1,0a0.1,0.1 0 1,0 0.2,0a0.1,0.1 0 1,0 -0.2,0Z", "M-1,0L1,0", "M-0.37,0a0.37,0.37 0 1,0 0.74,0a0.37,0.37 0 1,0 -0.74,0Z", "M-1,-0.075L1,-0.075L1,0.075L-1,0.075Z", "M-1,0L1,0"]}
        },
        "strokeDash": {
          "field": "item", "type": "nominal",
          "scale": {"domain": ["Pre-spike samples", "Pre-spike regression", "Step 3400 layers", "Spike-step regression", "y = x"],
                    "range": [[1, 0], [1.5, 2.2], [1, 0], [1, 0], [4, 2.5]]}
        }
      }
    },
    {
      "data": {"name": "caption"},
      "encoding": {
        "x": {"field": "segment", "type": "nominal", "scale": {"type": "point", "domain": ["first", "last"], "range": [12, 851], "padding": 0}, "axis": null},
        "y": {"field": "line", "type": "quantitative", "scale": {"domain": [1, 7], "range": [375.5, 562.5], "nice": false, "zero": false}, "axis": null},
        "text": {"field": "text"}
      },
      "layer": [
        {"transform": [{"filter": "datum.segment === 'first' && datum.role === 'body'"}], "mark": {"type": "text", "align": "left", "baseline": "alphabetic", "fontSize": 26.8, "color": "#000000"}},
        {"transform": [{"filter": "datum.segment === 'first' && datum.role === 'heading'"}], "mark": {"type": "text", "align": "left", "baseline": "alphabetic", "fontSize": 27.5, "fontWeight": "bold", "color": "#000000"}},
        {"transform": [{"filter": "datum.segment === 'last' && datum.role === 'body'"}], "mark": {"type": "text", "align": "right", "baseline": "alphabetic", "fontSize": 26.8, "color": "#000000"}},
        {"transform": [{"filter": "datum.segment === 'last' && datum.role === 'heading'"}], "mark": {"type": "text", "align": "right", "baseline": "alphabetic", "fontSize": 27.5, "fontWeight": "bold", "color": "#000000"}}
      ]
    }
  ]
}
